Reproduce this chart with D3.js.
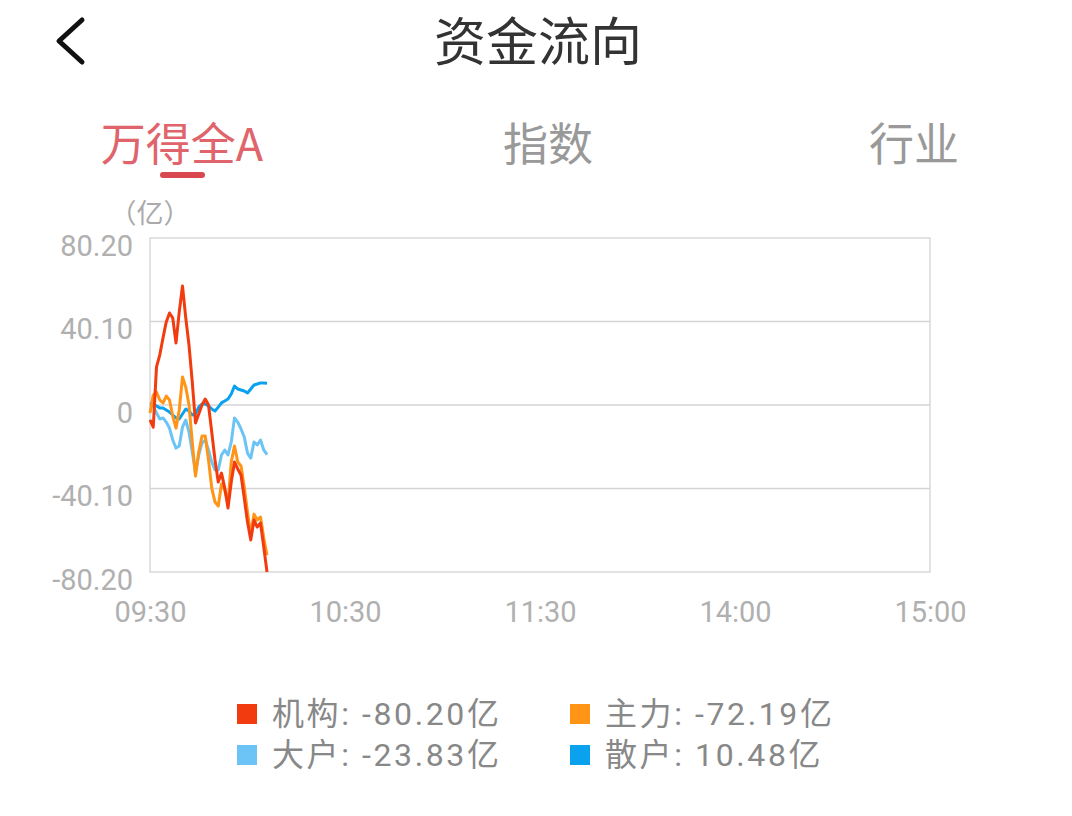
<!DOCTYPE html>
<html><head><meta charset="utf-8">
<script src="https://cdn.jsdelivr.net/npm/d3@7/dist/d3.min.js"></script>
<style>
html,body{margin:0;padding:0;background:#fff;}
svg{display:block;}
text{font-family:"Noto Sans CJK SC","Noto Sans",sans-serif;}
</style></head>
<body>
<svg id="c" width="1072" height="816"></svg>
<script>
// ---- data ----
const title = "资金流向";
const tabs = ["万得全A", "指数", "行业"];
const unitLabel = "（亿）";
const xTickMinutes = [0, 60, 120, 180, 240];
const xTickLabels = ["09:30", "10:30", "11:30", "14:00", "15:00"];
const yTickValues = [80.20, 40.10, 0, -40.10, -80.20];
const yTickLabels = ["80.20", "40.10", "0", "-40.10", "-80.20"];
const seriesNames = ["机构", "主力", "大户", "散户"];
const seriesLast = ["-80.20", "-72.19", "-23.83", "10.48"];
const seriesColors = ["#f23c0f", "#ff9416", "#6cc3f6", "#0aa2ef"];

const jigou = [-7.2,-10.6,18.3,24.0,32.2,39.9,44.2,41.8,29.8,44.7,57.2,41.8,28.8,11.1,-8.6,-4.3,0,2.9,0,-13.0,-26.4,-37.0,-32.7,-39.9,-49.5,-37.0,-27.4,-30.7,-33.6,-44.7,-56.2,-64.8,-55.2,-58.6,-56.7,-68.2,-80.20];
const zhuli = [-3.8,4.8,6.2,2.4,1.0,4.3,2.4,-5.3,-11.1,-2.4,13.5,8.6,0,-17.8,-34.1,-22.6,-14.9,-14.9,-26.4,-39.9,-46.6,-48.5,-37.9,-40.8,-47.1,-27.4,-19.7,-27.4,-29.3,-39.4,-51.4,-62.4,-52.4,-55.2,-53.8,-63.9,-72.19];
const dahu = [0.5,-0.5,-3.8,-6.7,-6.2,-8.2,-11.1,-16.8,-20.7,-19.7,-10.6,-7.2,-13.0,-22.6,-32.2,-24.0,-18.3,-16.8,-21.6,-27.4,-31.2,-31.2,-24.0,-21.6,-24.0,-17.8,-6.2,-8.2,-11.5,-15.4,-23.1,-25.5,-17.8,-19.2,-16.8,-21.6,-23.83];
const sanhu = [1.0,0.5,-0.5,-1.4,-1.4,-2.4,-3.4,-4.8,-6.2,-6.7,-4.3,-1.9,-2.9,-4.8,-4.3,-1.0,0.5,0.5,-0.5,-1.9,-2.9,-1.0,1.0,1.9,2.9,5.3,9.1,7.7,7.2,6.7,5.8,7.7,9.6,10.1,10.6,10.6,10.48];
const allSeries = [jigou, zhuli, dahu, sanhu];

// ---- drawing ----
const svg = d3.select("#c");
const L = 150, R = 930, T = 238, B = 572;

// header
svg.append("path").attr("d","M82,20 L59,41 L82,62").attr("fill","none")
  .attr("stroke","#111").attr("stroke-width",5).attr("stroke-linecap","round").attr("stroke-linejoin","round");
svg.append("text").attr("x",538).attr("y",61).attr("text-anchor","middle")
  .attr("font-size",52).attr("fill","#333").text(title);

const tabX = [182, 548, 914];
tabs.forEach((t,i)=>{
  svg.append("text").attr("x",tabX[i]).attr("y",161).attr("text-anchor","middle")
    .attr("font-size",45).attr("fill", i===0 ? "#e0646c" : "#999").text(t);
});
svg.append("rect").attr("x",160).attr("y",172).attr("width",45).attr("height",6).attr("rx",3)
  .attr("fill","#d9474f");

svg.append("text").attr("x",150).attr("y",223).attr("text-anchor","middle")
  .attr("font-size",27).attr("fill","#aaa").text(unitLabel);

const x = d3.scaleLinear().domain([0,240]).range([L,R]);
const y = d3.scaleLinear().domain([-80.2,80.2]).range([B,T]);

// frame & grid
svg.append("rect").attr("x",L).attr("y",T).attr("width",R-L).attr("height",B-T)
  .attr("fill","none").attr("stroke","#d9d9d9").attr("stroke-width",1.5);
svg.append("g").selectAll("line").data(yTickValues.slice(1,4)).join("line")
  .attr("x1",L).attr("x2",R).attr("y1",d=>y(d)).attr("y2",d=>y(d))
  .attr("stroke","#d4d4d4").attr("stroke-width",1.5);

// axes
const yAxis = d3.axisLeft(y).tickValues(yTickValues).tickSize(0).tickPadding(17)
  .tickFormat((d,i)=>yTickLabels[i]);
const gy = svg.append("g").attr("transform",`translate(${L},0)`).call(yAxis);
gy.select(".domain").remove();
gy.selectAll("text").attr("font-size",29).attr("fill","#b0b0b0").attr("dy","0.32em")
  .style("font-family","Roboto,'Noto Sans',sans-serif")
  .attr("transform","translate(0,8)");

const xAxis = d3.axisBottom(x).tickValues(xTickMinutes).tickSize(0).tickPadding(29)
  .tickFormat((d,i)=>xTickLabels[i]);
const gx = svg.append("g").attr("transform",`translate(0,${B})`).call(xAxis);
gx.select(".domain").remove();
gx.selectAll("text").attr("font-size",29).attr("fill","#b0b0b0")
  .style("font-family","Roboto,'Noto Sans',sans-serif");

// lines
const line = d3.line().x((d,i)=>x(i)).y(d=>y(d));
[2,3,1,0].forEach(k=>{
  svg.append("path").datum(allSeries[k]).attr("d",line).attr("fill","none")
    .attr("stroke",seriesColors[k]).attr("stroke-width",3).attr("stroke-linejoin","round");
});

// legend
const legPos = [[237,704],[570,704],[237,745],[570,745]];
seriesNames.forEach((n,k)=>{
  const [lx,ly] = legPos[k];
  svg.append("rect").attr("x",lx).attr("y",ly).attr("width",20).attr("height",20).attr("fill",seriesColors[k]);
  svg.append("text").attr("x",lx+35).attr("y",ly+21).attr("font-size",32).attr("fill","#888")
    .attr("letter-spacing",2.6)
    .style("font-family","Roboto,'Noto Sans CJK SC',sans-serif")
    .text(`${n}: ${seriesLast[k]}亿`);
});
</script>
</body></html>
